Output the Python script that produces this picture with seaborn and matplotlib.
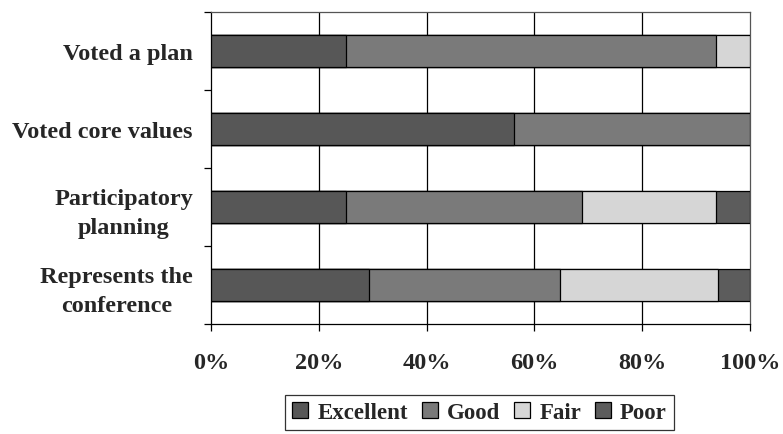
import matplotlib
matplotlib.use("Agg")
import matplotlib.pyplot as plt
from matplotlib.patches import Patch
import numpy as np
import pandas as pd
import seaborn as sns

# Survey items (top to bottom) and rating shares in percent
items = ["Voted a plan", "Voted core values", "Participatory\nplanning",
         "Represents the\nconference"]
ratings = ["Excellent", "Good", "Fair", "Poor"]
excellent = [25.0, 56.25, 25.0, 29.4]
good = [68.75, 43.75, 43.75, 35.3]
fair = [6.25, 0.0, 25.0, 29.4]
poor = [0.0, 0.0, 6.25, 5.9]
x_ticklabels = ["0%", "20%", "40%", "60%", "80%", "100%"]

colors = {"Excellent": "#575757", "Good": "#7a7a7a",
          "Fair": "#d6d6d6", "Poor": "#5c5c5c"}

sns.set_style("white")
plt.rcParams["font.family"] = ["Liberation Serif", "DejaVu Serif"]
plt.rcParams["font.weight"] = "bold"

shares = pd.DataFrame({"item": items, "Excellent": excellent, "Good": good,
                       "Fair": fair, "Poor": poor})
cum = shares[ratings].cumsum(axis=1)

fig = plt.figure(figsize=(7.83, 4.35), dpi=100)
ax = fig.add_axes([211 / 783, 1 - 325 / 435, (750 - 211) / 783, (325 - 13) / 435])

# Stack by overlaying cumulative totals, widest layer first
for r in reversed(ratings):
    df = pd.DataFrame({"item": items, "value": cum[r]})
    sns.barplot(data=df, x="value", y="item", order=items, orient="h",
                color=colors[r], edgecolor="black", linewidth=0.9,
                width=0.4, saturation=1, ax=ax, zorder=3)

ax.set_xlim(0, 100)
ax.set_ylim(3.5, -0.5)
ax.set_xlabel("")
ax.set_ylabel("")

# vertical grid lines at 20% steps
for xv in [20, 40, 60, 80]:
    ax.axvline(xv, color="black", lw=0.9, zorder=1)

ax.set_xticks([0, 20, 40, 60, 80, 100])
ax.set_xticklabels(x_ticklabels, fontsize=17.5, fontweight="bold")
ax.tick_params(axis="x", direction="out", length=5, width=0.9,
               color="black", pad=15, bottom=True)

# tick marks between categories, labels at category centres
ax.set_yticks([-0.5, 0.5, 1.5, 2.5, 3.5])
ax.set_yticklabels([])
ax.set_yticks(range(len(items)), minor=True)
ax.set_yticklabels(items, minor=True, fontsize=17.5, fontweight="bold",
                   multialignment="center", linespacing=1.45)
ax.tick_params(axis="y", which="major", direction="out", length=5,
               width=0.9, color="black", left=True)
ax.tick_params(axis="y", which="minor", length=0, pad=13)

for side in ["left", "bottom", "top", "right"]:
    ax.spines[side].set_visible(True)
    ax.spines[side].set_color("black")
    ax.spines[side].set_linewidth(0.9)
ax.spines["top"].set_color("#555555")
ax.spines["right"].set_color("#555555")

handles = [Patch(facecolor=colors[r], edgecolor="black", linewidth=0.9, label=r)
           for r in ratings]
leg = fig.legend(handles=handles, loc="center", ncol=4,
                 bbox_to_anchor=(479.5 / 783, 1 - 413.5 / 435),
                 prop={"size": 16.5, "weight": "bold"}, frameon=True,
                 fancybox=False, edgecolor="black", handlelength=0.7,
                 handleheight=0.7, handletextpad=0.4, columnspacing=0.6,
                 borderpad=0.3, borderaxespad=0)
leg.get_frame().set_linewidth(0.9)

fig.savefig("out.png", dpi=100)
